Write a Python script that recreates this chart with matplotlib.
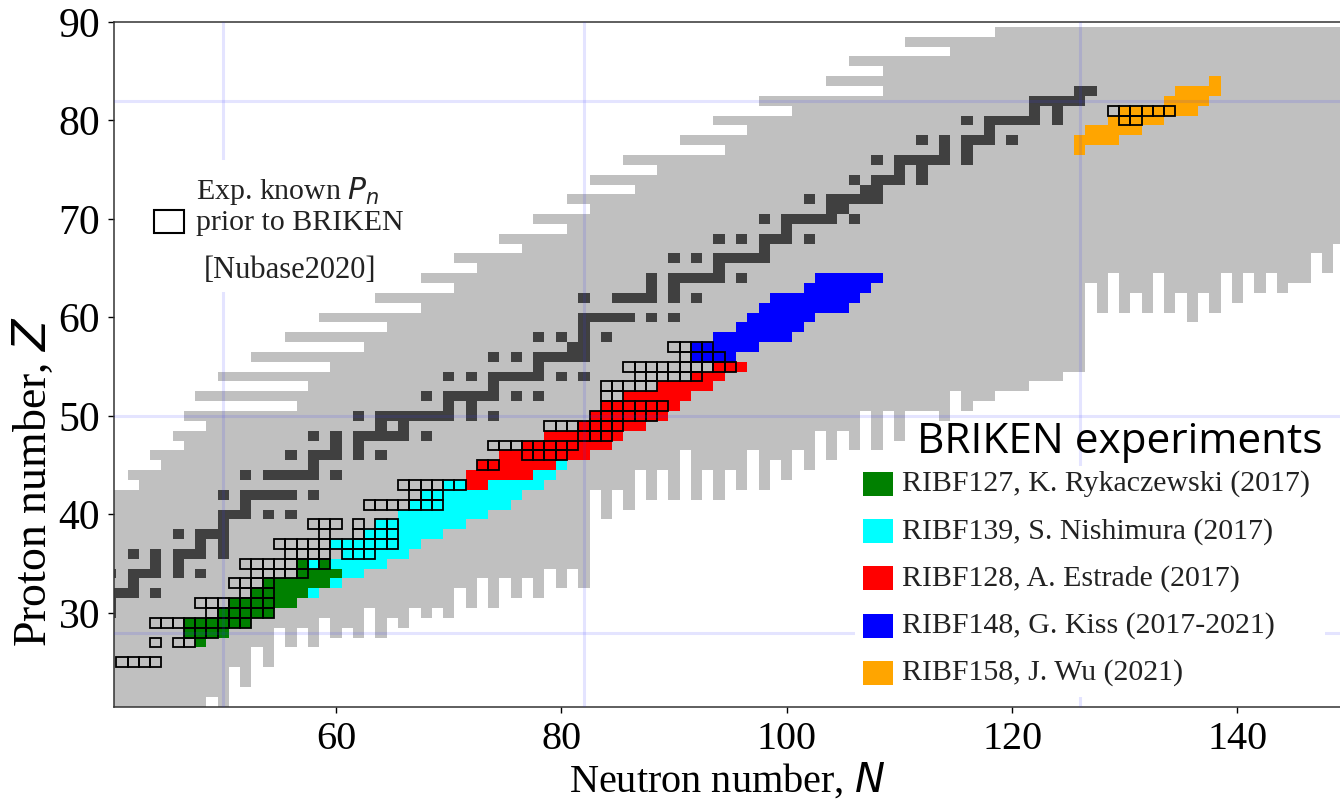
"""
Carta de nucleidos con las mediciones de Pn de BRIKEN.
Genera out.png (1340x802).
"""

import matplotlib
matplotlib.use("Agg")
import matplotlib.pyplot as plt
from matplotlib.colors import ListedColormap
from matplotlib.patches import Rectangle
import numpy as np

# ── Región gris: borde superior izquierdo (N mínimo por Z) ─────────
GRAY_Z = list(range(20, 90))
GRAY_NMIN = [40, 40, 40, 40, 40, 40, 40, 40, 40, 40, 40, 40, 40, 40, 40, 40,
             40, 40, 40, 40, 40, 40, 40,
             43, 42, 45, 44, 47, 46, 49, 47, 57, 48, 58, 50, 60, 53, 63, 56,
             65, 59, 68, 64, 71, 68, 73, 71, 77, 75, 81, 78, 83, 81, 87, 83,
             89, 86, 95, 91, 97, 94, 101, 98, 109, 104, 109, 106, 115, 111, 119]

# ── Región gris: borde inferior derecho (Z mínimo por N) ───────────
GRAY_N = list(range(40, 150))
GRAY_ZMIN = [20, 20, 20, 20, 20, 20, 20, 20, 20,
             22, 20, 25, 23, 27, 25, 29, 27, 29, 27, 30, 28, 29, 28, 31, 28,
             30, 29, 31, 30, 31, 30, 33, 31, 34, 31, 34, 32, 34, 32, 35, 33,
             35, 33, 43, 40, 43, 41, 45, 42, 45, 42, 47, 42, 45, 42, 45, 43,
             47, 43, 46, 44, 47, 45, 49, 46, 49, 47, 51, 47, 51, 48, 51, 51,
             51, 50, 53, 51, 52, 52, 53, 53, 53, 54, 54, 54, 55, 55, 64, 61,
             65, 61, 63, 61, 65, 61, 63, 60, 63, 61, 65, 62, 65, 63, 65, 63,
             64, 64, 67, 65, 68]

# ── Núcleos estables (Z, masas A) ──────────────────────────────────
STABLE_Z = [30, 31, 32, 33, 34, 35, 36, 37, 38, 39, 40, 41, 42, 44, 45, 46,
            47, 48, 49, 50, 51, 52, 53, 54, 55, 56, 57, 58, 59, 60, 62, 63,
            64, 65, 66, 67, 68, 69, 70, 71, 72, 73, 74, 75, 76, 77, 78, 79,
            80, 81, 82, 83]
STABLE_A = [[70], [71], [72, 73, 74, 76], [75], [74, 76, 77, 78, 80, 82],
            [79, 81], [78, 80, 82, 83, 84, 86], [85, 87], [84, 86, 87, 88],
            [89], [90, 91, 92, 94, 96], [93], [92, 94, 95, 96, 97, 98, 100],
            [96, 98, 99, 100, 101, 102, 104], [103],
            [102, 104, 105, 106, 108, 110], [107, 109],
            [106, 108, 110, 111, 112, 113, 114, 116], [113, 115],
            [112, 114, 115, 116, 117, 118, 119, 120, 122, 124], [121, 123],
            [120, 122, 123, 124, 125, 126, 128, 130], [127],
            [124, 126, 128, 129, 130, 131, 132, 134, 136], [133],
            [130, 132, 134, 135, 136, 137, 138], [138, 139],
            [136, 138, 140, 142], [141], [142, 143, 144, 145, 146, 148, 150],
            [144, 147, 148, 149, 150, 152, 154], [151, 153],
            [152, 154, 155, 156, 157, 158, 160], [159],
            [156, 158, 160, 161, 162, 163, 164], [165],
            [162, 164, 166, 167, 168, 170], [169],
            [168, 170, 171, 172, 173, 174, 176], [175, 176],
            [174, 176, 177, 178, 179, 180], [180, 181],
            [180, 182, 183, 184, 186], [185, 187],
            [184, 186, 187, 188, 189, 190, 192], [191, 193],
            [190, 192, 194, 195, 196, 198], [197],
            [196, 198, 199, 200, 201, 202, 204], [203, 205],
            [204, 205, 206, 207, 208], [209, 210]]

# ── Experimentos BRIKEN: (Z, N desde, N hasta) ─────────────────────
RIBF127 = [(27, 48, 48), (28, 47, 50), (29, 47, 52), (30, 50, 54),
           (31, 51, 56), (32, 53, 57), (33, 54, 59), (34, 57, 60),
           (35, 57, 57), (35, 59, 59)]
RIBF139 = [(32, 58, 58), (33, 60, 60), (34, 61, 62), (35, 58, 58),
           (35, 60, 64), (36, 61, 66), (37, 60, 67), (38, 63, 69),
           (39, 64, 71), (40, 66, 73), (41, 67, 75), (42, 68, 76),
           (43, 70, 71), (43, 74, 78), (44, 78, 79), (45, 80, 80)]
RIBF128 = [(43, 72, 73), (44, 72, 77), (45, 73, 79), (46, 75, 82),
           (47, 77, 84), (48, 79, 85), (49, 82, 87), (50, 83, 89),
           (51, 84, 90), (52, 86, 91), (53, 89, 93), (54, 92, 94),
           (55, 94, 96)]
RIBF148 = [(56, 92, 95), (57, 92, 97), (58, 94, 100), (59, 96, 101),
           (60, 97, 102), (61, 98, 105), (62, 99, 106), (63, 102, 107),
           (64, 103, 108)]
RIBF158 = [(77, 126, 126), (78, 126, 129), (79, 127, 131), (80, 129, 133),
           (81, 130, 136), (82, 134, 137), (83, 135, 138), (84, 138, 138)]

# ── Pn conocidos antes de BRIKEN [Nubase2020]: (Z, N desde, N hasta) ─
PN_KNOWN = [(25, 41, 44), (27, 44, 44), (27, 46, 47), (28, 47, 49),
            (29, 44, 52), (30, 49, 54), (31, 48, 54), (32, 52, 54),
            (33, 51, 54), (34, 53, 57), (35, 52, 59), (36, 56, 59),
            (36, 61, 63), (37, 55, 65), (38, 59, 59), (38, 62, 65),
            (39, 58, 60), (39, 62, 62), (39, 64, 65), (41, 63, 69),
            (42, 67, 69), (43, 66, 71), (45, 73, 74), (46, 77, 80),
            (47, 74, 81), (48, 82, 84), (49, 79, 85), (50, 83, 88),
            (51, 84, 89), (52, 84, 85), (53, 84, 88), (54, 87, 92),
            (55, 86, 95), (56, 91, 94), (57, 90, 93), (80, 130, 131),
            (81, 129, 134)]

MAGIC = [28, 50, 82, 126]
EXP_LABELS = ["RIBF127, K. Rykaczewski (2017)", "RIBF139, S. Nishimura (2017)",
              "RIBF128, A. Estrade (2017)", "RIBF148, G. Kiss (2017-2021)",
              "RIBF158, J. Wu (2021)"]
EXP_COLORS = ["#008000", "#00FFFF", "#FF0000", "#0000FF", "#FFA500"]

# ── Estilo ─────────────────────────────────────────────────────────
GRAY = "#C0C0C0"
DARK = "#404040"
SERIF = ["Liberation Serif", "DejaVu Serif"]
plt.rcParams["font.family"] = SERIF
plt.rcParams["mathtext.fontset"] = "dejavusans"

W, H = 1340, 802
fig = plt.figure(figsize=(W / 100, H / 100), dpi=100)
ax = fig.add_axes([114 / W, 1 - 707 / H, 1226 / W, 685 / H])

# ── Rejilla de celdas ──────────────────────────────────────────────
grid = np.zeros((len(GRAY_Z), len(GRAY_N)))
for i, z in enumerate(GRAY_Z):
    for j, n in enumerate(GRAY_N):
        if n >= GRAY_NMIN[i] and z >= GRAY_ZMIN[j]:
            grid[i, j] = 1

for z, masas in zip(STABLE_Z, STABLE_A):
    for a in masas:
        n = a - z
        if GRAY_N[0] <= n <= GRAY_N[-1]:
            grid[z - GRAY_Z[0], n - GRAY_N[0]] = 2

for k, exp in enumerate([RIBF127, RIBF139, RIBF128, RIBF148, RIBF158]):
    for z, n1, n2 in exp:
        for n in range(n1, n2 + 1):
            grid[z - GRAY_Z[0], n - GRAY_N[0]] = 3 + k

masked = np.ma.masked_equal(grid, 0)
cmap = ListedColormap([GRAY, DARK] + EXP_COLORS)
n_edges = np.arange(GRAY_N[0] - 0.5, GRAY_N[-1] + 1.5)
z_edges = np.arange(GRAY_Z[0] - 0.5, GRAY_Z[-1] + 1.5)
ax.pcolormesh(n_edges, z_edges, masked, cmap=cmap, vmin=0.5, vmax=7.5,
              shading="flat", antialiased=False, linewidth=0, zorder=1)

# Cuadros con Pn conocido
for z, n1, n2 in PN_KNOWN:
    for n in range(n1, n2 + 1):
        ax.add_patch(Rectangle((n - 0.5, z - 0.5), 1, 1, fill=False,
                               edgecolor="black", linewidth=1.3, zorder=4))

# Números mágicos
for m in MAGIC:
    ax.axvline(m, color="#3333FF", alpha=0.13, linewidth=2.2, zorder=5)
    ax.axhline(m, color="#3333FF", alpha=0.13, linewidth=2.2, zorder=5)

ax.set_xlim(40.3, 149.1)
ax.set_ylim(20.45, 90.0)
ax.set_xticks([60, 80, 100, 120, 140])
ax.set_yticks([30, 40, 50, 60, 70, 80, 90])
ax.tick_params(axis="x", labelsize=29, length=4, width=1, pad=6)
ax.tick_params(axis="y", labelsize=30, length=4, width=1, pad=6)
for sp in ax.spines.values():
    sp.set_linewidth(1.1)
    sp.set_color("#333333")
ax.spines["right"].set_visible(False)

ax.set_xlabel("Neutron number, $N$", fontsize=29, labelpad=2)
ax.set_ylabel("Proton number, $Z$", fontsize=33)
ax.yaxis.set_label_coords(-0.047, 0.33)

# ── Leyenda superior izquierda ─────────────────────────────────────
def fx(px):
    return px / W

def fy(py):
    return 1 - py / H

fig.add_artist(Rectangle((fx(146), fy(292)), fx(420) - fx(146), fy(160) - fy(292),
                         transform=fig.transFigure, facecolor="white",
                         edgecolor="none"))
fig.add_artist(Rectangle((fx(154), fy(233)), fx(184) - fx(154), fy(210) - fy(233),
                         transform=fig.transFigure, facecolor="white",
                         edgecolor="black", linewidth=1.5))
fig.text(fx(196), fy(191), "Exp. known $P_n$", fontsize=21.5, va="center",
         ha="left", color="#222222")
fig.text(fx(196), fy(223), "prior to BRIKEN", fontsize=21.5, va="center",
         ha="left", color="#222222")
fig.text(fx(290), fy(270), "[Nubase2020]", fontsize=22, va="center",
         ha="center", color="#222222")

# ── Leyenda de experimentos ────────────────────────────────────────
fig.text(fx(1120), fy(442), "BRIKEN experiments",
         family=["Open Sans", "DejaVu Sans"], fontsize=30.5,
         ha="center", va="center", color="black")
fig.add_artist(Rectangle((fx(855), fy(697)), fx(1325) - fx(855), fy(466) - fy(697),
                         transform=fig.transFigure, facecolor="white",
                         edgecolor="none"))
for k, (lab, col) in enumerate(zip(EXP_LABELS, EXP_COLORS)):
    yc = 484 + k * 47.2
    fig.add_artist(Rectangle((fx(863), fy(yc + 12)), fx(893) - fx(863),
                             fy(yc - 12) - fy(yc + 12),
                             transform=fig.transFigure, facecolor=col,
                             edgecolor="none"))
    fig.text(fx(902), fy(yc), lab, fontsize=21.5, ha="left", va="center",
             color="#222222")

fig.savefig("out.png", dpi=100)
